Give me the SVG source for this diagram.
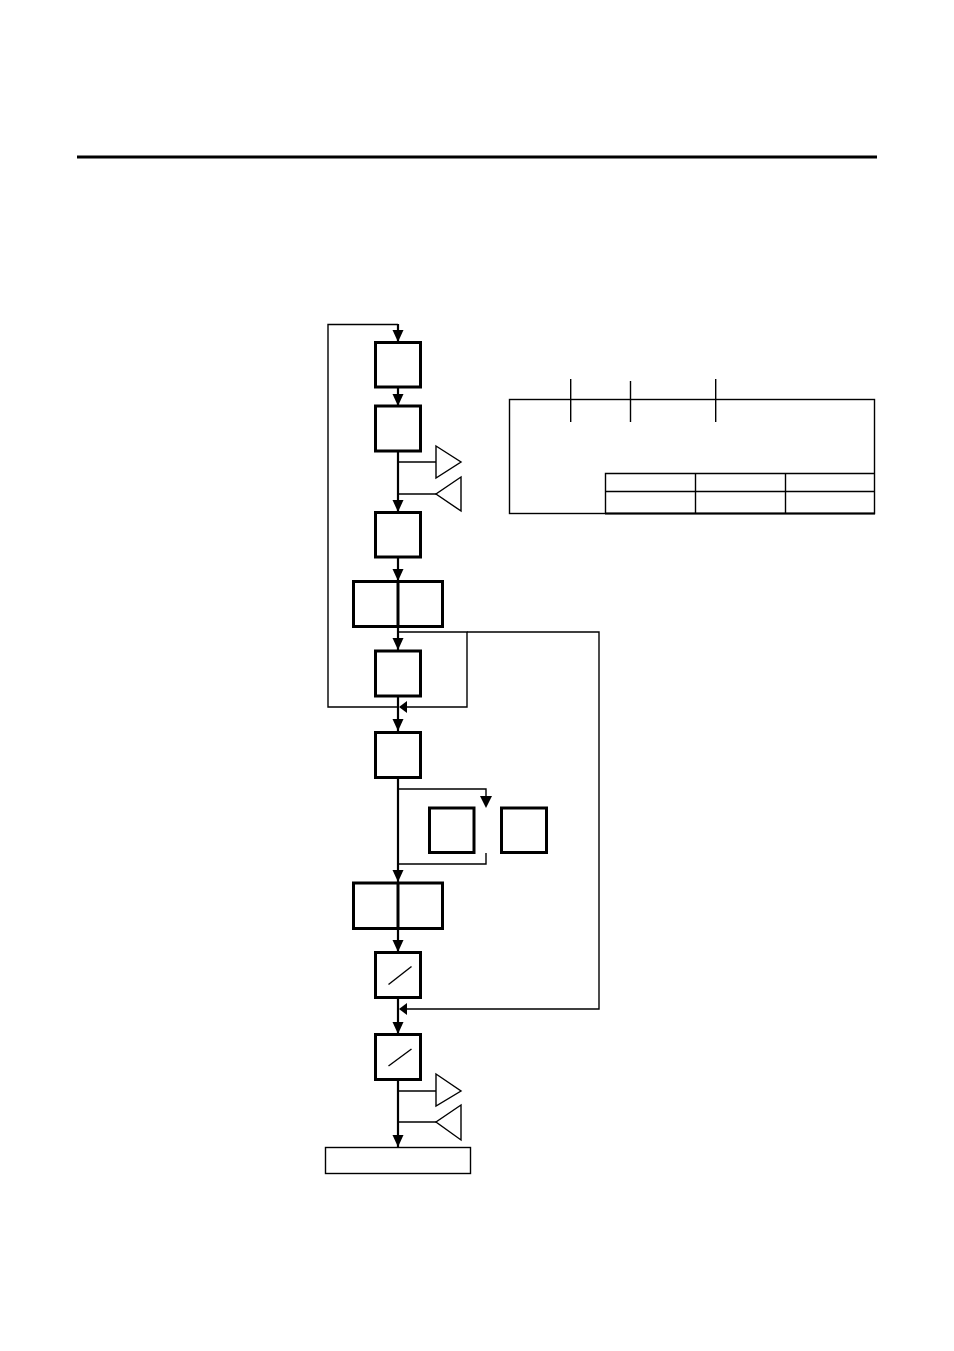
<svg xmlns="http://www.w3.org/2000/svg" width="954" height="1351" viewBox="0 0 954 1351">
<defs>
<style>
.box{fill:#fff;stroke:#000;stroke-width:3}
.thin{fill:none;stroke:#000;stroke-width:1.4}
.main{fill:none;stroke:#000;stroke-width:2.2}
.tri{fill:#fff;stroke:#000;stroke-width:1.4}
.ah{fill:#000}
.tbl{fill:none;stroke:#000;stroke-width:1.4}
</style>
</defs>
<rect width="954" height="1351" fill="#fff"/>
<line x1="77" y1="157" x2="877" y2="157" stroke="#000" stroke-width="3"/>

<g id="connectors">
<!-- main spine -->
<line class="main" x1="398" y1="324" x2="398" y2="1147"/>
<!-- loop back to top -->
<polyline class="thin" points="398,707 328,707 328,324.5 398,324.5"/>
<!-- bypass of box5 -->
<polyline class="thin" points="398,632 467,632 467,707 404,707"/>
<!-- long bypass -->
<polyline class="thin" points="467,632 599,632 599,1009 404,1009"/>
<!-- optional branch -->
<polyline class="thin" points="398,789 486,789 486,798"/>
<polyline class="thin" points="486,853 486,864 398,864"/>
<!-- triangle feeders -->
<line class="thin" x1="398" y1="462" x2="436" y2="462"/>
<line class="thin" x1="398" y1="494" x2="436" y2="494"/>
<line class="thin" x1="398" y1="1091" x2="436" y2="1091"/>
<line class="thin" x1="398" y1="1122" x2="436" y2="1122"/>
<!-- arrowheads down -->
<polygon class="ah" points="392.5,330 403.5,330 398,342"/>
<polygon class="ah" points="392.5,394 403.5,394 398,406"/>
<polygon class="ah" points="392.5,500 403.5,500 398,512"/>
<polygon class="ah" points="392.5,569 403.5,569 398,581"/>
<polygon class="ah" points="392.5,638 403.5,638 398,650"/>
<polygon class="ah" points="392.5,719 403.5,719 398,731"/>
<polygon class="ah" points="392.5,870 403.5,870 398,882"/>
<polygon class="ah" points="392.5,940 403.5,940 398,952"/>
<polygon class="ah" points="392.5,1022 403.5,1022 398,1034"/>
<polygon class="ah" points="392.5,1135 403.5,1135 398,1147"/>
<polygon class="ah" points="480,796 492,796 486,808"/>
<!-- arrowheads left -->
<polygon class="ah" points="399,707 407,701 407,713"/>
<polygon class="ah" points="399,1009 407,1003 407,1015"/>
</g>

<g id="n1"><rect class="box" x="375.5" y="342.5" width="45" height="44.5"/></g>
<g id="n2"><rect class="box" x="375.5" y="406" width="45" height="45"/></g>
<g id="t1"><polygon class="tri" points="436,446 461,462 436,478"/></g>
<g id="t2"><polygon class="tri" points="461,477 436,494 461,511"/></g>
<g id="n3"><rect class="box" x="375.5" y="512.5" width="45" height="44.5"/></g>
<g id="n4"><rect class="box" x="353.5" y="581.5" width="89" height="45"/><line x1="398" y1="581" x2="398" y2="627" stroke="#000" stroke-width="3"/></g>
<g id="n5"><rect class="box" x="375.5" y="651" width="45" height="45"/></g>
<g id="n6"><rect class="box" x="375.5" y="732.5" width="45" height="45"/></g>
<g id="n7"><rect class="box" x="429.5" y="808" width="44.5" height="44.5"/></g>
<g id="n8"><rect class="box" x="501.5" y="808" width="45" height="44.5"/></g>
<g id="n9"><rect class="box" x="353.5" y="883" width="89" height="45.5"/><line x1="398" y1="882" x2="398" y2="929" stroke="#000" stroke-width="3"/></g>
<g id="n10"><rect class="box" x="375.5" y="952.5" width="45" height="45"/><line x1="388.5" y1="984.5" x2="411.5" y2="966.5" stroke="#000" stroke-width="1.4"/></g>
<g id="n11"><rect class="box" x="375.5" y="1034.5" width="45" height="45"/><line x1="388.5" y1="1066" x2="411.5" y2="1049" stroke="#000" stroke-width="1.4"/></g>
<g id="t3"><polygon class="tri" points="436,1074 461,1091 436,1106"/></g>
<g id="t4"><polygon class="tri" points="461,1105 436,1122 461,1140"/></g>
<g id="n12"><rect x="325.5" y="1147.5" width="145" height="26" fill="#fff" stroke="#000" stroke-width="1.4"/></g>

<g id="table">
<rect class="tbl" x="509.5" y="399.5" width="365" height="114"/>
<line class="tbl" x1="570.7" y1="379" x2="570.7" y2="422"/>
<line class="tbl" x1="630.5" y1="381" x2="630.5" y2="422"/>
<line class="tbl" x1="715.7" y1="379" x2="715.7" y2="422"/>
<polyline class="tbl" points="605.5,513.5 605.5,473.5 874.5,473.5"/>
<line class="tbl" x1="605.5" y1="491.5" x2="874.5" y2="491.5"/>
<line class="tbl" x1="695.5" y1="473.5" x2="695.5" y2="513.5"/>
<line class="tbl" x1="785.5" y1="473.5" x2="785.5" y2="513.5"/>
<line x1="605" y1="513.5" x2="875" y2="513.5" stroke="#000" stroke-width="2.2"/>
</g>
</svg>
